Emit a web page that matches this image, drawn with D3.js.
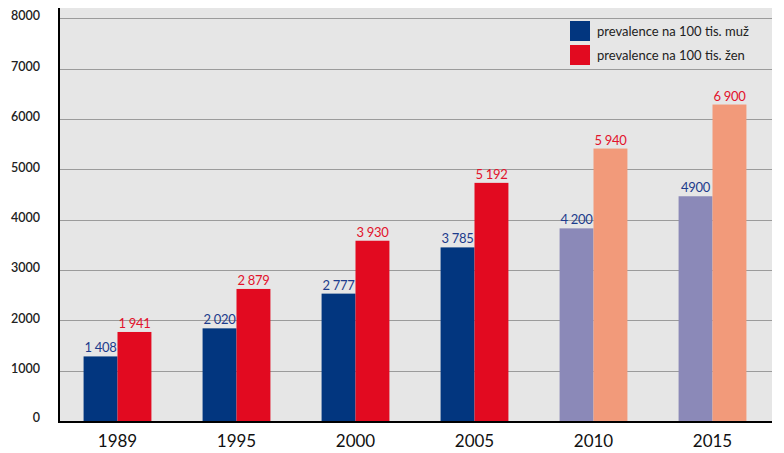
<!DOCTYPE html>
<html><head><meta charset="utf-8">
<script src="https://cdn.jsdelivr.net/npm/d3@7"></script>
<style>
html,body{margin:0;padding:0;background:#fff;}
svg{display:block;font-family:Lato,"Open Sans",sans-serif;}
</style></head>
<body>
<svg id="chart" width="784" height="453"></svg>
<script>
const years = ["1989","1995","2000","2005","2010","2015"];
const maleValues = [1408, 2020, 2777, 3785, 4200, 4900];
const femaleValues = [1941, 2879, 3930, 5192, 5940, 6900];
const maleLabels = ["1 408","2 020","2 777","3 785","4 200","4900"];
const femaleLabels = ["1 941","2 879","3 930","5 192","5 940","6 900"];
const projected = [false,false,false,false,true,true];
const yTicks = [0,1000,2000,3000,4000,5000,6000,7000,8000];
const legendLabels = ["prevalence na 100 tis. muž","prevalence na 100 tis. žen"];

const svg = d3.select("#chart");
const pLeft = 58, pRight = 772, pTop = 8, pBottom = 421, gridTop = 18.3;

const x = d3.scaleBand().domain(years).range([pLeft, pRight]).paddingInner(0.43).paddingOuter(0.215);
const xs = d3.scaleBand().domain(["m","f"]).range([0, x.bandwidth()]);
const yAxis = d3.scaleLinear().domain([0, 8000]).range([pBottom, gridTop]);
// bars in the original are drawn on a slightly compressed scale
const yBar = d3.scaleLinear().domain([0, 8780]).range([pBottom, gridTop]);

const colors = {m:"#02367f", f:"#e20a20", mp:"#8b89b8", fp:"#f29a7a"};

svg.append("rect").attr("x", pLeft).attr("y", pTop).attr("width", pRight-pLeft).attr("height", pBottom-pTop).attr("fill","#e6e6e6");

svg.append("g").selectAll("line").data(yTicks.filter(d=>d>0)).join("line")
  .attr("x1", pLeft).attr("x2", pRight)
  .attr("y1", d=>Math.round(yAxis(d))+0.5).attr("y2", d=>Math.round(yAxis(d))+0.5)
  .attr("stroke","#9b9b9b").attr("stroke-width",1);

svg.append("g").selectAll("text").data(yTicks).join("text")
  .attr("x", 40).attr("y", d=>yAxis(d) - (d===0?2:1))
  .attr("text-anchor","end").attr("dominant-baseline","middle")
  .attr("font-size","12.5px").attr("font-weight","600").attr("fill","#222")
  .text(d=>d);

const data = years.map((y,i)=>({year:y, i, m:maleValues[i], f:femaleValues[i], ml:maleLabels[i], fl:femaleLabels[i], p:projected[i]}));

const g = svg.append("g").selectAll("g").data(data).join("g").attr("transform", d=>`translate(${x(d.year)},0)`);
g.append("rect").attr("x", xs("m")).attr("width", xs.bandwidth())
  .attr("y", d=>yBar(d.m)).attr("height", d=>pBottom-yBar(d.m))
  .attr("fill", d=>d.p?colors.mp:colors.m);
g.append("rect").attr("x", xs("f")).attr("width", xs.bandwidth())
  .attr("y", d=>yBar(d.f)).attr("height", d=>pBottom-yBar(d.f))
  .attr("fill", d=>d.p?colors.fp:colors.f);
g.append("text").attr("x", xs("m")+xs.bandwidth()/2).attr("y", d=>yBar(d.m)-4)
  .attr("text-anchor","middle").attr("font-size","13px").attr("letter-spacing","-0.3px").attr("fill","#1d3c8c").text(d=>d.ml);
g.append("text").attr("x", xs("f")+xs.bandwidth()/2).attr("y", d=>yBar(d.f)-4)
  .attr("text-anchor","middle").attr("font-size","13px").attr("letter-spacing","-0.3px").attr("fill","#e2122c").text(d=>d.fl);

g.append("text").attr("x", x.bandwidth()/2).attr("y", 447)
  .attr("text-anchor","middle").attr("font-size","17px").attr("fill","#111").text(d=>d.year);

// axes lines
svg.append("line").attr("x1", pLeft+1).attr("x2", pLeft+1).attr("y1", pTop).attr("y2", pBottom+1).attr("stroke","#000").attr("stroke-width",2);
svg.append("line").attr("x1", pLeft).attr("x2", pRight).attr("y1", pBottom+1).attr("y2", pBottom+1).attr("stroke","#000").attr("stroke-width",2);

// legend
const leg = svg.append("g").attr("transform","translate(570,21)");
legendLabels.forEach((t,i)=>{
  leg.append("rect").attr("x",0).attr("y", i*24).attr("width",20).attr("height",20).attr("fill", i===0?colors.m:colors.f);
  leg.append("text").attr("x",27).attr("y", i*24+15).attr("font-size","13px").attr("fill","#222").text(t);
});
</script>
</body></html>
